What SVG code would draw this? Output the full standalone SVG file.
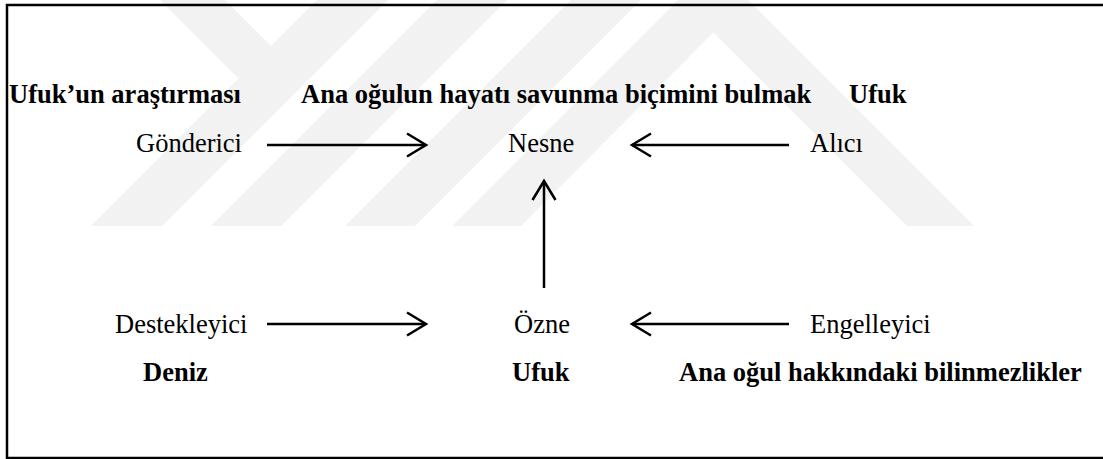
<svg xmlns="http://www.w3.org/2000/svg" width="1103" height="459" viewBox="0 0 1103 459">
  <style>
    .reg { font-family: "Liberation Serif", "Times New Roman", serif; font-size: 26.5px; fill: #000; }
    .bold { font-family: "Liberation Serif", "Times New Roman", serif; font-size: 26.5px; font-weight: bold; fill: #000; }
    .conn { stroke: #000; stroke-width: 2.5; fill: none; marker-end: url(#arrow); }
    .wm { fill: #f2f2f2; }
  </style>
  <defs>
    <marker id="arrow" markerUnits="userSpaceOnUse" orient="auto" refX="0" refY="0" markerWidth="40" markerHeight="40" overflow="visible">
      <path d="M-19,-11.5 L0,0 L-19,11.5" fill="none" stroke="#000" stroke-width="2.5"/>
    </marker>
  </defs>
  <rect x="0" y="0" width="1103" height="459" fill="#fff"/>
  <g id="watermark">
    <polygon class="wm" points="160,0 225,0 271,46 238.5,78.5"/>
    <polygon class="wm" points="317,0 388,0 162,226 91,226"/>
    <polygon class="wm" points="437,0 507,0 281,226 211,226"/>
    <polygon class="wm" points="571,0 641,0 415,226 345,226"/>
    <polygon class="wm" points="678,0 748,0 974,226 907,226 713.5,32.5 521,226 452,226"/>
  </g>
  <path id="frame" d="M1103,5 H7 V458 H1103" fill="none" stroke="#000" stroke-width="2.5"/>
  <g id="connectors">
    <path class="conn" d="M267,145 H426"/>
    <path class="conn" d="M789,145 H632"/>
    <path class="conn" d="M544,288 V181"/>
    <path class="conn" d="M267,324 H426"/>
    <path class="conn" d="M789,324 H632"/>
  </g>
  <g id="label-gonderici-actor"><text class="bold" x="9" y="103">Ufuk’un araştırması</text></g>
  <g id="label-nesne-value"><text class="bold" x="301" y="103">Ana oğulun hayatı savunma biçimini bulmak</text></g>
  <g id="label-alici-actor"><text class="bold" x="849" y="103">Ufuk</text></g>
  <g id="node-gonderici"><text class="reg" x="136" y="152">Gönderici</text></g>
  <g id="node-nesne"><text class="reg" x="508" y="152">Nesne</text></g>
  <g id="node-alici"><text class="reg" x="810" y="152">Alıcı</text></g>
  <g id="node-destekleyici"><text class="reg" x="115" y="333">Destekleyici</text></g>
  <g id="node-ozne"><text class="reg" x="514" y="333">Özne</text></g>
  <g id="node-engelleyici"><text class="reg" x="810" y="333">Engelleyici</text></g>
  <g id="label-destekleyici-actor"><text class="bold" x="143" y="381">Deniz</text></g>
  <g id="label-ozne-actor"><text class="bold" x="512" y="381">Ufuk</text></g>
  <g id="label-engelleyici-actor"><text class="bold" x="679" y="381">Ana oğul hakkındaki bilinmezlikler</text></g>
</svg>
